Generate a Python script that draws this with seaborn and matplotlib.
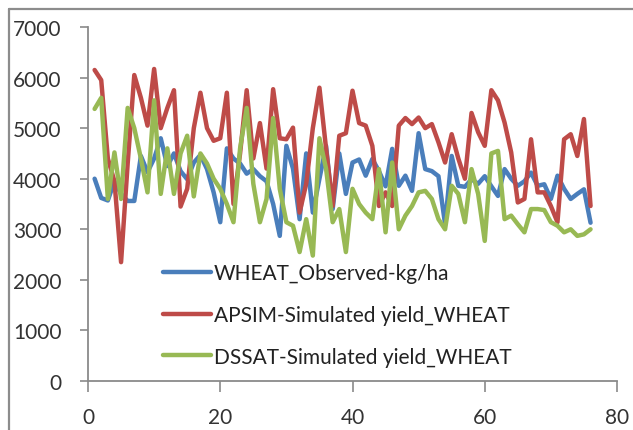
import numpy as np
import pandas as pd
import matplotlib
matplotlib.use("Agg")
import matplotlib.pyplot as plt
import seaborn as sns
from matplotlib.lines import Line2D

# ---- data ----
x_vals = list(range(1, 77))

observed = [4000, 3620, 3570, 3950, 3700, 3560, 3560, 4450, 4130, 4400,
            4800, 4250, 4500, 4150, 3990, 4320, 4470, 4190, 3730, 3140,
            4600, 4400, 4300, 4100, 4190, 4050, 3950, 3500, 2870, 4650,
            4200, 3200, 4500, 3330, 4000, 4650, 3400, 4500, 3700, 4320,
            4380, 4060, 4390, 4150, 3850, 4590, 3860, 4060, 3760, 4900,
            4190, 4150, 4050, 3100, 4450, 3860, 3840, 3990, 3900, 4050,
            3850, 3660, 4190, 4000, 3860, 3950, 4120, 3860, 3890, 3600,
            4060, 3800, 3600, 3700, 3790, 3130]

apsim = [6150, 5950, 4400, 3950, 2350, 4300, 6050, 5600, 5050, 6170,
         5000, 5400, 5750, 3450, 3800, 5000, 5700, 5000, 4750, 4800,
         5700, 3500, 4500, 5750, 4400, 5100, 4200, 5770, 4800, 4780,
         5010, 3330, 3900, 5000, 5800, 4600, 3460, 4850, 4900, 5740,
         5100, 5050, 4650, 3460, 3730, 3460, 5050, 5200, 5080, 5210,
         5000, 5080, 4720, 4320, 4880, 4400, 4000, 5300, 4920, 4650,
         5750, 5550, 5110, 4520, 3530, 3600, 4780, 3730, 3730, 3460,
         3140, 4780, 4880, 4450, 5180, 3460]

dssat = [5380, 5600, 3600, 4520, 3600, 5400, 5000, 4400, 3730, 5550,
         3700, 4600, 3700, 4500, 4850, 3650, 4500, 4300, 4000, 3800,
         3500, 3140, 4600, 5400, 3900, 3140, 3600, 5200, 3800, 3140,
         3070, 2550, 3200, 2480, 4800, 4200, 3140, 3400, 2550, 3800,
         3500, 3330, 3200, 4190, 2940, 4320, 3000, 3270, 3460, 3730,
         3760, 3600, 3200, 3000, 3860, 3700, 3140, 4190, 3700, 2770,
         4500, 4550, 3200, 3270, 3100, 2940, 3400, 3400, 3380, 3140,
         3070, 2940, 3000, 2870, 2900, 3000]

series_names = ["WHEAT_Observed-kg/ha",
                "APSIM-Simulated yield_WHEAT",
                "DSSAT-Simulated yield_WHEAT"]
series_colors = ["#4A7EBB", "#BE4B48", "#98B954"]

x_ticks = [0, 20, 40, 60, 80]
y_ticks = [0, 1000, 2000, 3000, 4000, 5000, 6000, 7000]

# ---- build table ----
frames = []
for name, vals in zip(series_names, [observed, apsim, dssat]):
    frames.append(pd.DataFrame({"x": x_vals, "yield": vals, "series": name}))
df = pd.concat(frames, ignore_index=True)

sns.set_theme(style="white")
plt.rcParams["font.family"] = ["Lato", "DejaVu Sans"]
plt.rcParams["lines.solid_joinstyle"] = "round"
plt.rcParams["lines.solid_capstyle"] = "round"

W, H = 633, 431
fig = plt.figure(figsize=(W / 100, H / 100), dpi=100)
fig.patch.set_facecolor("white")
ax = fig.add_axes([88 / W, 1 - 382 / H, (617 - 88) / W, (382 - 28) / H])

sns.lineplot(data=df, x="x", y="yield", hue="series", hue_order=series_names,
             palette=dict(zip(series_names, series_colors)), linewidth=3.2,
             sort=False, estimator=None, ax=ax, legend=False)

ax.set_xlim(0, 80)
ax.set_ylim(0, 7000)
ax.set_xticks(x_ticks)
ax.set_yticks(y_ticks)
ax.set_xlabel("")
ax.set_ylabel("")
for s in ["top", "right"]:
    ax.spines[s].set_visible(False)
for s in ["left", "bottom"]:
    ax.spines[s].set_color("#8a8a8a")
    ax.spines[s].set_linewidth(1.3)
ax.tick_params(axis="y", left=True, length=6, width=1.2, color="#8a8a8a",
               labelsize=15, labelcolor="#333333", pad=13)
ax.tick_params(axis="x", bottom=True, length=8, width=1.2, color="#8a8a8a",
               labelsize=15, labelcolor="#333333", pad=11)
ax.grid(False)

handles = [Line2D([], [], color=c, linewidth=3.2) for c in series_colors]
ax.legend(handles, series_names, loc="upper left",
          bbox_to_anchor=(163 / W, 1 - 264 / H), bbox_transform=fig.transFigure,
          frameon=False, fontsize=15, handlelength=2.3, handletextpad=0.15,
          labelspacing=1.05, borderpad=0, borderaxespad=0,
          labelcolor="#222222")

# outer chart border (left and top visible)
fig.add_artist(Line2D([8.5 / W, 8.5 / W], [0, 1 - 10 / H], transform=fig.transFigure,
                      color="#8c8c8c", linewidth=1.6))
fig.add_artist(Line2D([8.5 / W, 1], [1 - 10 / H, 1 - 10 / H], transform=fig.transFigure,
                      color="#8c8c8c", linewidth=1.6))

fig.savefig("out.png", dpi=100)
